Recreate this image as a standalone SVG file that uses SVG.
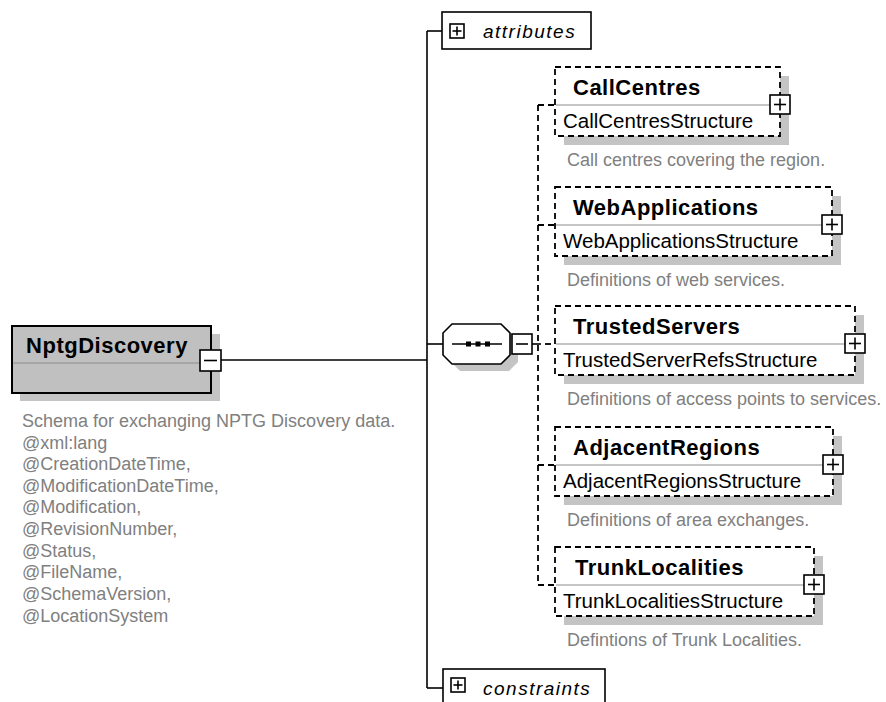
<svg xmlns="http://www.w3.org/2000/svg" width="886" height="702" viewBox="0 0 886 702">
<style>
text{font-family:"Liberation Sans",Arial,sans-serif}
.shadow{fill:#c4c4c4;stroke:none}
.dbox{fill:#fff;stroke:#000;stroke-width:1.8;stroke-dasharray:6 4}
.div{stroke:#8c8c8c;stroke-width:1.2}
.conn{stroke:#000;stroke-width:1.6;fill:none}
.dconn{stroke:#000;stroke-width:1.8;fill:none;stroke-dasharray:6 4}
.name{font-weight:bold;font-size:22px;letter-spacing:0.5px;fill:#000}
.type{font-size:20.5px;fill:#000}
.desc{font-size:18px;fill:#808080}
.lbl{font-style:italic;font-size:19px;letter-spacing:1.5px;fill:#000}
.icon{fill:#fff;stroke:#000;stroke-width:1.6}
.sym{stroke:#000;stroke-width:1.6}
</style>
<defs>
<g id="plus"><rect class="icon" x="0" y="0" width="20" height="19"/><line class="sym" x1="4" y1="9.5" x2="16" y2="9.5"/><line class="sym" x1="10" y1="3.5" x2="10" y2="15.5"/></g>
<g id="plusS"><rect class="icon" x="0" y="0" width="14" height="14"/><line class="sym" x1="2.5" y1="7" x2="11.5" y2="7"/><line class="sym" x1="7" y1="2.5" x2="7" y2="11.5"/></g>
</defs>

<g id="connectors">
<line class="conn" x1="221" y1="360" x2="427" y2="360"/>
<line class="conn" x1="427" y1="31" x2="427" y2="688"/>
<line class="conn" x1="427" y1="31" x2="442" y2="31"/>
<line class="conn" x1="427" y1="688" x2="443" y2="688"/>
<line class="conn" x1="427" y1="344" x2="443" y2="344"/>
<line class="conn" x1="532" y1="344" x2="541" y2="344"/>
<line class="dconn" x1="538" y1="105" x2="538" y2="585"/>
<line class="dconn" x1="538" y1="105" x2="555" y2="105"/>
<line class="dconn" x1="538" y1="225" x2="555" y2="225"/>
<line class="dconn" x1="545" y1="344" x2="555" y2="344"/>
<line class="dconn" x1="538" y1="465" x2="555" y2="465"/>
<line class="dconn" x1="538" y1="585" x2="555" y2="585"/>
</g>

<g id="NptgDiscovery">
<rect class="shadow" x="20" y="334" width="200" height="67"/>
<rect x="12" y="326" width="199" height="67" fill="#c0c0c0" stroke="#000" stroke-width="2"/>
<line class="div" x1="13" y1="363" x2="200" y2="363"/>
<text class="name" x="107" y="353" text-anchor="middle" font-size="21">NptgDiscovery</text>
<rect class="icon" x="200" y="350" width="21" height="21"/>
<line class="sym" x1="204" y1="360.5" x2="217" y2="360.5"/>
<text class="desc" x="22" y="427">Schema for exchanging NPTG Discovery data.</text>
<text class="desc" x="22" y="448.5">@xml:lang</text>
<text class="desc" x="22" y="470">@CreationDateTime,</text>
<text class="desc" x="22" y="491.5">@ModificationDateTime,</text>
<text class="desc" x="22" y="513">@Modification,</text>
<text class="desc" x="22" y="535">@RevisionNumber,</text>
<text class="desc" x="22" y="556.5">@Status,</text>
<text class="desc" x="22" y="578">@FileName,</text>
<text class="desc" x="22" y="600">@SchemaVersion,</text>
<text class="desc" x="22" y="621.5">@LocationSystem</text>
</g>

<g id="attributes">
<rect x="442" y="12" width="149" height="37" fill="#fff" stroke="#000" stroke-width="1.6"/>
<use href="#plusS" x="450" y="24"/>
<text class="lbl" x="483" y="38">attributes</text>
</g>

<g id="sequence">
<polygon class="shadow" points="460,331 509,331 518,340 518,362 509,371 460,371 451,362 451,340"/>
<polygon points="452,324 501,324 510,333 510,355 501,364 452,364 443,355 443,333" fill="#fff" stroke="#000" stroke-width="1.6"/>
<line class="sym" x1="452" y1="344" x2="502" y2="344"/>
<rect x="466" y="341.5" width="5" height="5" fill="#000"/>
<rect x="475.5" y="341.5" width="5" height="5" fill="#000"/>
<rect x="485" y="341.5" width="5" height="5" fill="#000"/>
<rect class="icon" x="512" y="334" width="20" height="20"/>
<line class="sym" x1="516" y1="344" x2="528" y2="344"/>
</g>

<g id="CallCentres">
<rect class="shadow" x="564" y="76" width="225" height="69"/>
<rect class="dbox" x="555" y="67" width="225" height="69"/>
<line class="div" x1="556" y1="105" x2="780" y2="105"/>
<text class="name" x="573" y="95">CallCentres</text>
<text class="type" x="563" y="128">CallCentresStructure</text>
<use href="#plus" x="770" y="95"/>
<text class="desc" x="567" y="166">Call centres covering the region.</text>
</g>

<g id="WebApplications">
<rect class="shadow" x="564" y="196" width="277" height="69"/>
<rect class="dbox" x="555" y="187" width="277" height="69"/>
<line class="div" x1="556" y1="225" x2="832" y2="225"/>
<text class="name" x="573" y="215">WebApplications</text>
<text class="type" x="563" y="248">WebApplicationsStructure</text>
<use href="#plus" x="822" y="215"/>
<text class="desc" x="567" y="286">Definitions of web services.</text>
</g>

<g id="TrustedServers">
<rect class="shadow" x="564" y="315" width="300" height="69"/>
<rect class="dbox" x="555" y="306" width="300" height="69"/>
<line class="div" x1="556" y1="344" x2="855" y2="344"/>
<text class="name" x="573" y="334">TrustedServers</text>
<text class="type" x="563" y="367">TrustedServerRefsStructure</text>
<use href="#plus" x="845" y="334"/>
<text class="desc" x="567" y="405">Definitions of access points to services.</text>
</g>

<g id="AdjacentRegions">
<rect class="shadow" x="564" y="436" width="278" height="69"/>
<rect class="dbox" x="555" y="427" width="278" height="69"/>
<line class="div" x1="556" y1="465" x2="833" y2="465"/>
<text class="name" x="573" y="455">AdjacentRegions</text>
<text class="type" x="563" y="488">AdjacentRegionsStructure</text>
<use href="#plus" x="823" y="455"/>
<text class="desc" x="567" y="526">Definitions of area exchanges.</text>
</g>

<g id="TrunkLocalities">
<rect class="shadow" x="564" y="556" width="259" height="69"/>
<rect class="dbox" x="555" y="547" width="259" height="69"/>
<line class="div" x1="556" y1="585" x2="814" y2="585"/>
<text class="name" x="575" y="575">TrunkLocalities</text>
<text class="type" x="563" y="608">TrunkLocalitiesStructure</text>
<use href="#plus" x="804" y="575"/>
<text class="desc" x="567" y="646">Defintions of Trunk Localities.</text>
</g>

<g id="constraints">
<rect x="443" y="669" width="162" height="40" fill="#fff" stroke="#000" stroke-width="1.6"/>
<use href="#plusS" x="451" y="678"/>
<text class="lbl" x="483" y="695">constraints</text>
</g>
</svg>
